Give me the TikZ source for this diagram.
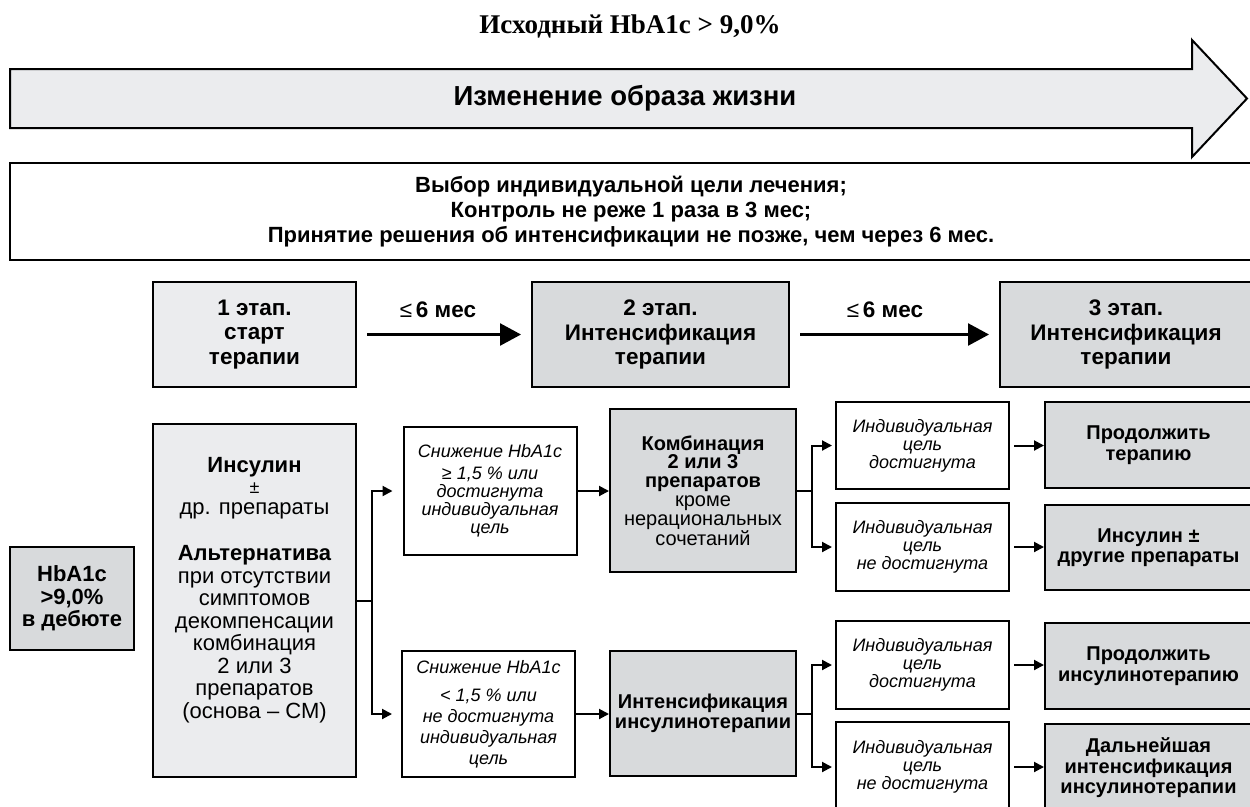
\documentclass[tikz,border=0pt]{standalone}
\usepackage{fontspec}
\setmainfont{Liberation Sans}
\newfontfamily\serifbf{Liberation Serif}
\usetikzlibrary{arrows.meta,calc}
\definecolor{lightg}{RGB}{235,236,238}
\definecolor{darkg}{RGB}{216,218,220}
\newcommand\fTitle{\serifbf\bfseries\fontsize{27}{30}\selectfont}
\newcommand\fLife{\fontsize{27.5}{30}\selectfont\bfseries}
\newcommand\fInfo{\fontsize{22}{25}\selectfont\bfseries}
\newcommand\fStage{\fontsize{22.5}{24.5}\selectfont\bfseries}
\newcommand\fBigB{\fontsize{22}{22.5}\selectfont\bfseries}
\newcommand\fBigR{\fontsize{22}{22.5}\selectfont}
\newcommand\fItA{\fontsize{18}{18}\selectfont\itshape}
\newcommand\fItB{\fontsize{18}{21}\selectfont\itshape}
\newcommand\fMid{\fontsize{20}{18.8}\selectfont}
\newcommand\fRight{\fontsize{20}{20.5}\selectfont\bfseries}
\tikzset{
  bx/.style={draw=black, line width=2pt, inner sep=0pt, align=center},
  lbox/.style={bx, fill=lightg},
  dbox/.style={bx, fill=darkg},
  wbox/.style={bx, fill=white},
  conn/.style={line width=2pt},
  arr/.style={line width=2pt, -{Triangle[length=10pt,width=10pt]}},
  bigarr/.style={line width=2.5pt, -{Triangle[length=21pt,width=22pt]}},
}
\begin{document}
\begin{tikzpicture}[x=1pt,y=-1pt]
\useasboundingbox (0,0) rectangle (1250,806);
% title
\node[font=\fTitle] (title) at (630,26) {Исходный HbA1c > 9,0\%};
% big arrow
\draw[line width=2pt, fill=lightg] (10,69) -- (1192,69) -- (1192,40) -- (1247,98.5) -- (1192,157) -- (1192,128) -- (10,128) -- cycle;
\node[font=\fLife] (life) at (625,98) {Изменение образа жизни};
% info box
\node[wbox, minimum width=1242pt, minimum height=97pt, font=\fInfo] (info) at (631,211.5)
  {Выбор индивидуальной цели лечения;\\Контроль не реже 1 раза в 3 мес;\\Принятие решения об интенсификации не позже, чем через 6 мес.};
% stages
\node[lbox, minimum width=203pt, minimum height=105pt, font=\fStage] (s1) at (254.5,334.5) {1 этап.\\старт\\терапии};
\node[dbox, minimum width=257pt, minimum height=105pt, font=\fStage] (s2) at (660.5,334.5) {2 этап.\\Интенсификация\\терапии};
\node[dbox, minimum width=252pt, minimum height=105pt, font=\fStage] (s3) at (1126,334.5) {3 этап.\\Интенсификация\\терапии};
\node[font=\fStage] (l1) at (438,310) {{\mdseries ≤}\,6 мес};
\node[font=\fStage] (l2) at (885,310) {{\mdseries ≤}\,6 мес};
% lower boxes
\node[dbox, minimum width=124pt, minimum height=103pt, font=\fBigB] (hb) at (72,598.5) {HbA1c\\>9,0\%\\в дебюте};
\node[lbox, minimum width=203pt, minimum height=353pt] (big) at (254.5,600.5) {};
\node[anchor=north, align=center, inner sep=0pt, font=\fBigR] (bigtxt) at (254.5,457)
  {\textbf{Инсулин}\\[-1pt]{\fontsize{18}{18}\selectfont ±}\\[-2pt]др. препараты\\[24pt]\textbf{Альтернатива}\\при отсутствии\\симптомов\\декомпенсации\\комбинация\\2 или 3\\препаратов\\(основа – СМ)};
\node[wbox, minimum width=173pt, minimum height=128pt, font=\fItA] (w1) at (490,491)
  {Снижение HbA1c\\[4pt]≥ 1,5 \% или\\достигнута\\индивидуальная\\цель};
\node[wbox, minimum width=173pt, minimum height=126pt, font=\fItB] (w2) at (488.5,714)
  {Снижение HbA1c\\[7pt]< 1,5 \% или\\не достигнута\\индивидуальная\\цель};
\node[dbox, minimum width=186pt, minimum height=163pt, font=\fMid] (komb) at (703,490.5)
  {\textbf{Комбинация}\\\textbf{2 или 3}\\\textbf{препаратов}\\кроме\\нерациональных\\сочетаний};
\node[dbox, minimum width=186pt, minimum height=125pt, font=\fRight] (ii) at (703,713.5)
  {Интенсификация\\инсулинотерапии};
\node[wbox, minimum width=173pt, minimum height=87pt, font=\fItA] (r1) at (922.5,445.5) {Индивидуальная\\цель\\достигнута};
\node[wbox, minimum width=173pt, minimum height=88pt, font=\fItA] (r2) at (922.5,547) {Индивидуальная\\цель\\не достигнута};
\node[wbox, minimum width=173pt, minimum height=88pt, font=\fItA] (r3) at (922.5,665) {Индивидуальная\\цель\\достигнута};
\node[wbox, minimum width=173pt, minimum height=90pt, font=\fItA] (r4) at (922.5,767) {Индивидуальная\\цель\\не достигнута};
\node[dbox, minimum width=207pt, minimum height=86pt, font=\fRight] (d1) at (1148.5,445) {Продолжить\\терапию};
\node[dbox, minimum width=207pt, minimum height=85pt, font=\fRight] (d2) at (1148.5,547.5) {Инсулин ±\\другие препараты};
\node[dbox, minimum width=207pt, minimum height=86pt, font=\fRight] (d3) at (1148.5,666) {Продолжить\\инсулинотерапию};
\node[dbox, minimum width=207pt, minimum height=88pt, font=\fRight] (d4) at (1148.5,768) {Дальнейшая\\интенсификация\\инсулинотерапии};
% stage arrows
\draw[bigarr, shorten <=10pt, shorten >=10pt] (s1.east) -- (s1.east -| s2.west);
\draw[bigarr, shorten <=10pt, shorten >=10pt] (s2.east) -- (s2.east -| s3.west);
% branching from big box
\draw[conn] (big.east) -- ++(15,0) coordinate (j1);
\draw[arr, shorten >=10pt] (j1) |- (w1.west);
\draw[arr, shorten >=9pt] (j1) |- (w2.west);
\draw[arr] (w1.east) -- (w1.east -| komb.west);
\draw[arr] (w2.east) -- (w2.east -| ii.west);
% branching from komb
\draw[conn] (komb.east) -- ++(15,0) coordinate (j2);
\draw[arr, shorten >=3pt] (j2) |- (r1.west);
\draw[arr, shorten >=3pt] (j2) |- (r2.west);
% branching from ii
\draw[conn] (ii.east) -- ++(15,0) coordinate (j3);
\draw[arr, shorten >=3pt] (j3) |- (r3.west);
\draw[arr, shorten >=3pt] (j3) |- (r4.west);
% to results
\draw[arr, shorten <=4pt] (r1.east) -- (r1.east -| d1.west);
\draw[arr, shorten <=4pt] (r2.east) -- (r2.east -| d2.west);
\draw[arr, shorten <=4pt] (r3.east) -- (r3.east -| d3.west);
\draw[arr, shorten <=4pt] (r4.east) -- (r4.east -| d4.west);
\end{tikzpicture}
\end{document}
